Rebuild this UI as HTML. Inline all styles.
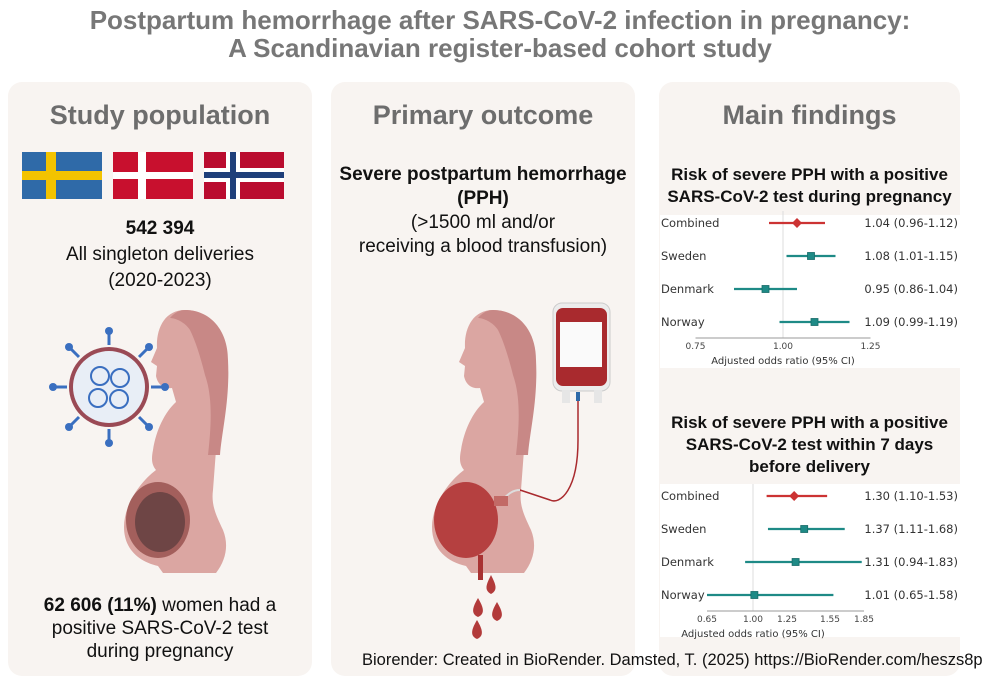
<!DOCTYPE html>
<html><head><meta charset="utf-8">
<style>
html,body{margin:0;padding:0;background:#fff;}
#root{position:relative;width:1000px;height:681px;overflow:hidden;font-family:"Liberation Sans",sans-serif;}
.panel{position:absolute;background:#f8f4f1;border-radius:14px;}
.t{position:absolute;text-align:center;color:#111;white-space:nowrap;}
svg{position:absolute;left:0;top:0;}
</style></head><body>
<div id="root">
<div class="panel" style="left:8px;top:82px;width:304px;height:594px"></div>
<div class="panel" style="left:331px;top:82px;width:304px;height:594px"></div>
<div class="panel" style="left:659px;top:82px;width:301px;height:594px"></div>
<div style="position:absolute;left:660px;top:215px;width:300px;height:153px;background:#fff"></div>
<div style="position:absolute;left:660px;top:484px;width:300px;height:153px;background:#fff"></div>

<div class="t" style="left:0;width:1000px;top:6px;font-size:26px;font-weight:bold;color:#777;line-height:28px">Postpartum hemorrhage after SARS-CoV-2 infection in pregnancy:<br>A Scandinavian register-based cohort study</div>

<div class="t" style="left:8px;width:304px;top:100px;font-size:27px;font-weight:bold;color:#6d6d6d">Study population</div>
<div class="t" style="left:331px;width:304px;top:100px;font-size:27px;font-weight:bold;color:#6d6d6d">Primary outcome</div>
<div class="t" style="left:659px;width:301px;top:100px;font-size:27px;font-weight:bold;color:#6d6d6d">Main findings</div>

<div class="t" style="left:8px;width:304px;top:216px;font-size:19px;line-height:26px"><b>542 394</b><br>All singleton deliveries<br>(2020-2023)</div>
<div class="t" style="left:8px;width:304px;top:594px;font-size:19px;line-height:23px"><b>62 606 (11%)</b> women had a<br>positive SARS-CoV-2 test<br>during pregnancy</div>
<div class="t" style="left:331px;width:304px;top:163px;font-size:19px;line-height:24px"><b>Severe postpartum hemorrhage<br>(PPH)</b><br>(&gt;1500 ml and/or<br>receiving a blood transfusion)</div>

<div class="t" style="left:659px;width:301px;top:164px;font-size:17px;font-weight:bold;line-height:22px">Risk of severe PPH with a positive<br>SARS-CoV-2 test during pregnancy</div>
<div class="t" style="left:659px;width:301px;top:412px;font-size:17px;font-weight:bold;line-height:22px">Risk of severe PPH with a positive<br>SARS-CoV-2 test within 7 days<br>before delivery</div>

<div class="t" style="left:362px;top:651px;font-size:16.5px;text-align:left">Biorender: Created in BioRender. Damsted, T. (2025) https://BioRender.com/heszs8p</div>

<svg width="1000" height="681" id="art">
 <!-- flags -->
 <g><rect x="22" y="152" width="80" height="47" fill="#2f6aa8"/><rect x="46" y="152" width="10" height="47" fill="#f3c300"/><rect x="22" y="171" width="80" height="9" fill="#f3c300"/></g>
 <g><rect x="113" y="152" width="80" height="47" fill="#c8102e"/><rect x="138" y="152" width="8" height="47" fill="#fff"/><rect x="113" y="172" width="80" height="7" fill="#fff"/></g>
 <g><rect x="204" y="152" width="80" height="47" fill="#ba0c2f"/><rect x="226" y="152" width="14" height="47" fill="#fff"/><rect x="204" y="168" width="80" height="14" fill="#fff"/><rect x="230" y="152" width="6" height="47" fill="#1f3f7a"/><rect x="204" y="172" width="80" height="6" fill="#1f3f7a"/></g>
 <defs>
  <g id="woman">
   <path d="M185 310 C165 310 156 328 157 348 L151 362 L157 366 L156 376 C158 386 165 389 172 388 L176 402 C165 412 156 430 153 450 C151 460 152 465 156 470 C140 482 124 505 124 527 C124 550 140 562 158 566 L163 573 L216 573 C226 560 229 545 223 530 C216 515 211 505 213 490 L216 450 C221 420 226 400 228 380 C230 340 215 310 185 310 Z" fill="#dba6a2"/>
   <path d="M185 310 C210 310 228 330 228 360 C230 400 222 430 220 455 L208 455 C212 420 212 395 205 375 C200 355 195 340 190 330 C185 322 175 318 170 318 C175 312 180 310 185 310 Z" fill="#c88886"/>
  </g>
 </defs>
 <use href="#woman"/>
 <ellipse cx="158" cy="520" rx="32" ry="38" fill="#a35f5c"/>
 <ellipse cx="160" cy="522" rx="25" ry="30" fill="#6e4545"/>
 <use href="#woman" transform="translate(308,0)"/>
 <ellipse cx="466" cy="520" rx="32" ry="38" fill="#b54040"/>
 <rect x="478" y="555" width="5" height="25" fill="#a83232"/>
 <!-- virus -->
 <g>
  <circle cx="109" cy="387" r="40" fill="#9a4a55"/>
  <circle cx="109" cy="387" r="36" fill="#e8eef6"/>
  <g stroke="#3a6fc0" stroke-width="3">
   <line x1="109" y1="345" x2="109" y2="333"/><line x1="109" y1="429" x2="109" y2="441"/><line x1="67" y1="387" x2="55" y2="387"/><line x1="151" y1="387" x2="163" y2="387"/>
   <line x1="79" y1="357" x2="71" y2="349"/><line x1="139" y1="357" x2="147" y2="349"/><line x1="79" y1="417" x2="71" y2="425"/><line x1="139" y1="417" x2="147" y2="425"/>
  </g>
  <g fill="#3a6fc0"><circle cx="109" cy="331" r="4"/><circle cx="109" cy="443" r="4"/><circle cx="53" cy="387" r="4"/><circle cx="165" cy="387" r="4"/><circle cx="69" cy="347" r="4"/><circle cx="149" cy="347" r="4"/><circle cx="69" cy="427" r="4"/><circle cx="149" cy="427" r="4"/></g>
  <g fill="none" stroke="#3a6fc0" stroke-width="2"><circle cx="100" cy="376" r="9"/><circle cx="120" cy="378" r="9"/><circle cx="98" cy="398" r="9"/><circle cx="119" cy="399" r="9"/></g>
 </g>
 <!-- blood bag -->
 <g>
  <rect x="553" y="303" width="57" height="88" rx="9" fill="#ececec" stroke="#ccc"/>
  <rect x="556" y="308" width="51" height="78" rx="7" fill="#a92a2e"/>
  <rect x="560" y="322" width="42" height="45" fill="#fafafa"/>
  <rect x="562" y="390" width="8" height="13" fill="#e6e6e6"/><rect x="594" y="390" width="8" height="13" fill="#e6e6e6"/>
  <path d="M578 392 L578 440 C578 490 560 505 550 500 L520 490" fill="none" stroke="#a92a2e" stroke-width="1.5"/>
  <rect x="576" y="392" width="4" height="9" fill="#2f6aa8"/>
  <path d="M520 490 C510 490 505 498 500 502" fill="none" stroke="#ddd" stroke-width="2"/>
  <rect x="494" y="496" width="14" height="10" fill="#c26a66"/>
 </g>
 <g fill="#b23a3a">
  <path d="M491 575 C486 585 484 590 491 594 C498 590 496 585 491 575 Z"/>
  <path d="M478 598 C472 608 471 614 478 617 C485 614 484 608 478 598 Z"/>
  <path d="M497 602 C491 612 490 618 497 621 C504 618 503 612 497 602 Z"/>
  <path d="M477 620 C471 630 470 636 477 639 C484 636 483 630 477 620 Z"/>
 </g>
</svg>
<svg width="1000" height="681" id="charts"></svg>
</div>
<script>
// Chart 1: during pregnancy
const rows1 = ["Combined","Sweden","Denmark","Norway"];
const or1 = [1.04,1.08,0.95,1.09];
const lo1 = [0.96,1.01,0.86,0.99];
const hi1 = [1.12,1.15,1.04,1.19];
const ticks1 = [0.75,1.00,1.25];
const tickLabels1 = ["0.75","1.00","1.25"];
// Chart 2: within 7 days before delivery
const rows2 = ["Combined","Sweden","Denmark","Norway"];
const or2 = [1.30,1.37,1.31,1.01];
const lo2 = [1.10,1.11,0.94,0.65];
const hi2 = [1.53,1.68,1.83,1.58];
const ticks2 = [0.65,1.00,1.25,1.55,1.85];
const tickLabels2 = ["0.65","1.00","1.25","1.55","1.85"];

const NS="http://www.w3.org/2000/svg";
const svg=document.getElementById('charts');
function mk(tag,attrs,parent){const e=document.createElementNS(NS,tag);for(const k in attrs)e.setAttribute(k,attrs[k]);(parent||svg).appendChild(e);return e;}
function fmt(v){return v.toFixed(2);}
function x1(v){return 783+(v-1)*350;}
function x2(v){ // piecewise axis as drawn in source
  const d=ticks2, r=[707,753,787,830,864];
  let i=0; while(i<d.length-2 && v>d[i+1]) i++;
  return r[i]+(v-d[i])/(d[i+1]-d[i])*(r[i+1]-r[i]);
}
function draw(rows,or,lo,hi,ticks,labels,xs,top,step,axisY,tag){
  const g=mk('g',{});
  
  
  const ref=mk('line',{x1:xs(1),x2:xs(1),y1:top-12,y2:axisY,stroke:'#ddd','stroke-width':1},g);
  
  
  const ax=mk('line',{x1:xs(ticks[0]),x2:xs(ticks[ticks.length-1]),y1:axisY,y2:axisY,stroke:'#999','stroke-width':1},g);
  
  
  ticks.forEach((t,i)=>{
    const tl=mk('text',{x:xs(t),y:axisY+11,'font-size':9,'text-anchor':'middle',fill:'#444','font-family':'DejaVu Sans, sans-serif'},g);
    tl.textContent=labels[i];
    
    
  });
  const at=mk('text',{x:xs(1),y:axisY+26,'font-size':10,'text-anchor':'middle',fill:'#333','font-family':'DejaVu Sans, sans-serif'},g);
  at.textContent='Adjusted odds ratio (95% CI)';
  
  
  rows.forEach((r,i)=>{
    const y=top+i*step;
    const col=i===0?'#cc3333':'#1e8a86';
    const lb=mk('text',{x:661,y:y+4,'font-size':11.5,fill:'#333','font-family':'DejaVu Sans, sans-serif'},g);
    lb.textContent=r;
    
    
    const ci=mk('line',{x1:xs(lo[i]),x2:xs(hi[i]),y1:y,y2:y,stroke:col,'stroke-width':2.2},g);
    
    
    const cx=xs(or[i]);
    let m;
    if(i===0) m=mk('path',{d:`M${cx} ${y-5} L${cx+5} ${y} L${cx} ${y+5} L${cx-5} ${y} Z`,fill:col},g);
    else m=mk('rect',{x:cx-3.5,y:y-3.5,width:7,height:7,fill:col,stroke:'#176b68','stroke-width':0.8},g);
    
    
    const vt=mk('text',{x:958,y:y+4,'font-size':11.5,'text-anchor':'end',fill:'#333','font-family':'DejaVu Sans, sans-serif'},g);
    vt.textContent=fmt(or[i])+' ('+fmt(lo[i])+'-'+fmt(hi[i])+')';
    
    
  });
}
draw(rows1,or1,lo1,hi1,ticks1,tickLabels1,x1,223,33,338,'chart1');
draw(rows2,or2,lo2,hi2,ticks2,tickLabels2,x2,496,33,611,'chart2');
</script>
</body></html>
